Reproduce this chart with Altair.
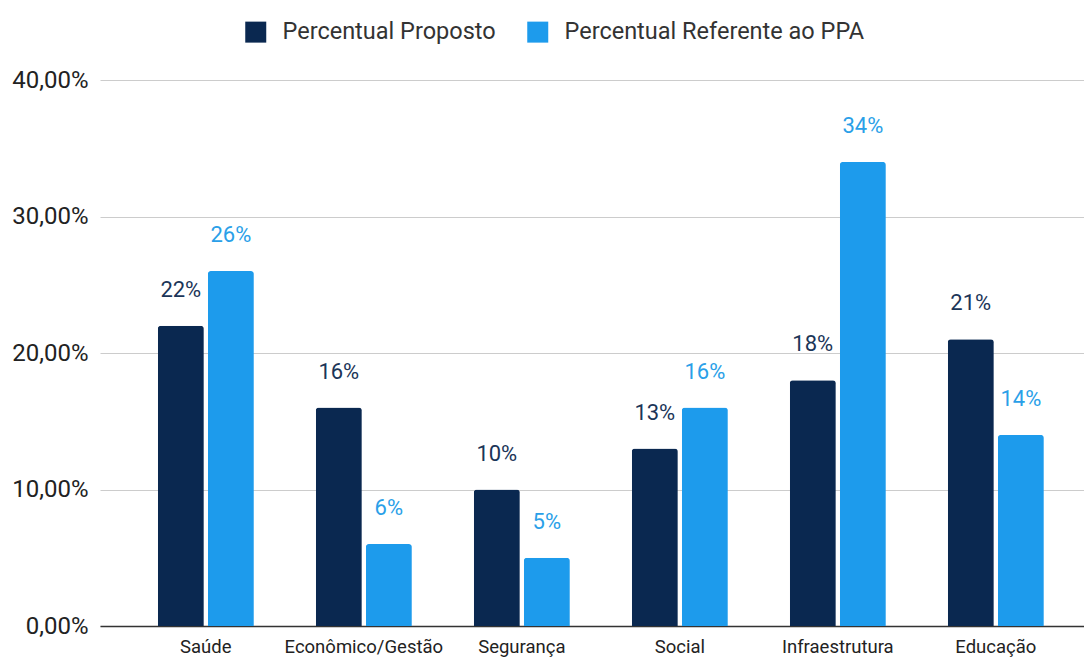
import altair as alt
import pandas as pd

categorias = ["Saúde", "Econômico/Gestão", "Segurança", "Social", "Infraestrutura", "Educação"]
proposto = [0.22, 0.16, 0.10, 0.13, 0.18, 0.21]
ppa = [0.26, 0.06, 0.05, 0.16, 0.34, 0.14]
series = ["Percentual Proposto", "Percentual Referente ao PPA"]
cores = ["#0a2850", "#1d9bec"]

rows = []
for c, a, b in zip(categorias, proposto, ppa):
    rows.append({"cat": c, "serie": series[0], "valor": a})
    rows.append({"cat": c, "serie": series[1], "valor": b})
df = pd.DataFrame(rows)

FONT = "Roboto"

x = alt.X("cat:N", sort=categorias, title=None,
          scale=alt.Scale(paddingInner=0.392, paddingOuter=0.31, align=0.59),
          axis=alt.Axis(labelAngle=0, labelFontSize=18.5, labelColor="#222", labelFont=FONT,
                        ticks=False, domainColor="#333", domainWidth=1.5, labelPadding=11,
                        labelLimit=300))
xo = alt.XOffset("serie:N", sort=series,
                 scale=alt.Scale(paddingInner=0.08, paddingOuter=0))
y = alt.Y("valor:Q", title=None,
          scale=alt.Scale(domain=[0, 0.4], nice=False),
          axis=alt.Axis(values=[0, 0.1, 0.2, 0.3, 0.4],
                        labelExpr="replace(format(datum.value, '.2%'), '.', ',')",
                        labelFontSize=24, labelColor="#222", labelFont=FONT,
                        ticks=False, domain=False, gridColor="#cccccc", labelPadding=12))
color = alt.Color("serie:N", sort=series,
                  scale=alt.Scale(domain=series, range=cores),
                  legend=alt.Legend(title=None, orient="none", legendX=144, legendY=-60,
                                    direction="horizontal", columns=2,
                                    symbolType="square", symbolSize=441, symbolStrokeWidth=0,
                                    symbolOpacity=1, labelFontSize=23.5, labelColor="#333",
                                    labelFont=FONT, labelOffset=15, columnPadding=30,
                                    labelLimit=400))

base = alt.Chart(df).encode(x=x, xOffset=xo, y=y)

bars = base.mark_bar(cornerRadiusTopLeft=3, cornerRadiusTopRight=3).encode(color=color)
text = base.mark_text(baseline="middle", dy=-36, fontSize=22, font=FONT).encode(
    text=alt.Text("valor:Q", format=".0%"),
    color=alt.Color("serie:N", sort=series,
                    scale=alt.Scale(domain=series, range=["#1b3558", "#2a9fe8"]),
                    legend=None),
)

chart = alt.layer(bars, text).resolve_scale(color="independent").properties(
    width=984, height=546,
    background="white",
    autosize=alt.AutoSizeParams(type="none"),
    padding={"left": 100, "top": 80, "right": 0, "bottom": 31},
).configure_view(stroke=None)

chart.save("out.html", embed_options={"renderer": "svg", "actions": False})
